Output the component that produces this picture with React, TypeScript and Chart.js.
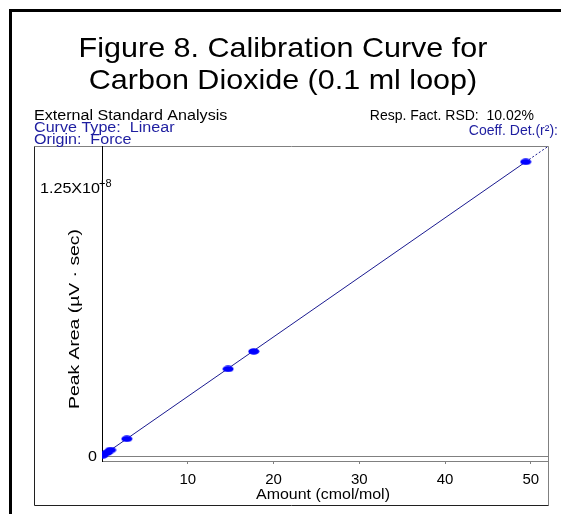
import React, { useEffect, useRef } from "react";
import { Chart, registerables } from "chart.js";

Chart.register(...registerables);

// Calibration points (amount in cmol/mol, peak area in µV·sec)
const amounts = [0.1, 0.6, 1.0, 2.9, 14.7, 17.7, 49.4];
const areas = [0.3e6, 1.6e6, 2.8e6, 8.0e6, 4.06e7, 4.88e7, 1.372e8];

// Linear fit through origin (forced): solid to last point, dotted after
const fitX = [0, 49.4, 52];
const fitY = [0, 1.372e8, 1.444e8];

const xTicks = [10, 20, 30, 40, 50];
const yTickValues = [0, 1.25e8];
const yTickLabels = ["0", "1.25X10"];
const yTickExponents = ["", "+8"];

const titleLines = ["Figure 8. Calibration Curve for", "Carbon Dioxide (0.1 ml loop)"];
const xTitle = "Amount (cmol/mol)";
const yTitle = "Peak Area (\u00B5V \u00B7 sec)";
const infoLeft = ["External Standard Analysis", "Curve Type:  Linear", "Origin:  Force"];
const infoRight = ["Resp. Fact. RSD:  10.02%", "Coeff. Det.(r\u00B2):"];

const FONT = '"Liberation Sans", Arial, sans-serif';
const BLUE_TEXT = "#1e1ea0";

function makeEllipse(): HTMLCanvasElement {
  const c = document.createElement("canvas");
  c.width = 12;
  c.height = 7;
  const g = c.getContext("2d")!;
  g.fillStyle = "#0000ff";
  g.beginPath();
  g.ellipse(6, 3.5, 5.5, 3.2, 0, 0, Math.PI * 2);
  g.fill();
  return c;
}

function txt(
  ctx: CanvasRenderingContext2D,
  s: string,
  x: number,
  y: number,
  size: number,
  color: string,
  align: CanvasTextAlign,
  sx = 1
) {
  ctx.save();
  ctx.font = `${size}px ${FONT}`;
  ctx.fillStyle = color;
  ctx.textAlign = align;
  ctx.textBaseline = "alphabetic";
  ctx.translate(x, y);
  ctx.scale(sx, 1);
  ctx.fillText(s, 0, 0);
  ctx.restore();
}

const decor = {
  id: "decor",
  beforeDraw(chart: any) {
    const ctx = chart.ctx as CanvasRenderingContext2D;
    ctx.save();
    ctx.fillStyle = "#ffffff";
    ctx.fillRect(0, 0, chart.width, chart.height);
    // outer frame
    ctx.strokeStyle = "#000000";
    ctx.lineWidth = 3;
    ctx.beginPath();
    ctx.moveTo(10.5, 600);
    ctx.lineTo(10.5, 10.5);
    ctx.lineTo(600, 10.5);
    ctx.stroke();
    // plot box
    ctx.lineWidth = 1;
    ctx.strokeStyle = "#808080";
    ctx.beginPath();
    ctx.moveTo(34.5, 146.5);
    ctx.lineTo(548.5, 146.5);
    ctx.lineTo(548.5, 505.5);
    ctx.stroke();
    ctx.strokeStyle = "#202020";
    ctx.beginPath();
    ctx.moveTo(34.5, 146.5);
    ctx.lineTo(34.5, 505.5);
    ctx.lineTo(548.5, 505.5);
    ctx.stroke();
    ctx.restore();
  },
  afterDraw(chart: any) {
    const ctx = chart.ctx as CanvasRenderingContext2D;
    const ys = chart.scales.y;
    const area = chart.chartArea;
    // title
    txt(ctx, titleLines[0], 283, 57, 28, "#000", "center", 1.09);
    txt(ctx, titleLines[1], 283, 89, 28, "#000", "center", 1.09);
    // info
    txt(ctx, infoLeft[0], 34, 119.5, 14, "#000", "left", 1.15);
    txt(ctx, infoLeft[1], 34, 131.5, 14, BLUE_TEXT, "left", 1.15);
    txt(ctx, infoLeft[2], 34, 144, 14, BLUE_TEXT, "left", 1.15);
    txt(ctx, infoRight[0], 534, 120, 14, "#000", "right");
    txt(ctx, infoRight[1], 558, 135, 14, BLUE_TEXT, "right");
    // y tick labels
    yTickValues.forEach((v, i) => {
      const py = ys.getPixelForValue(v);
      const rx = yTickExponents[i] ? area.left - 2 : area.left - 5;
      txt(ctx, yTickLabels[i], rx, py + 5, 14, "#000", "right", 1.15);
      if (yTickExponents[i]) txt(ctx, yTickExponents[i], area.left - 3, py - 1, 10, "#000", "left", 1.1);
    });
    // axis titles
    txt(ctx, xTitle, 323, 499, 14, "#000", "center", 1.14);
    ctx.save();
    ctx.translate(79, 319);
    ctx.rotate(-Math.PI / 2);
    txt(ctx, yTitle, 0, 0, 15, "#000", "center", 1.29);
    ctx.restore();
  },
};

export default function App() {
  const ref = useRef<HTMLCanvasElement | null>(null);
  useEffect(() => {
    if (!ref.current) return;
    const marker = makeEllipse();
    const chart = new Chart(ref.current, {
      type: "scatter",
      data: {
        datasets: [
          {
            label: "fit",
            data: fitX.map((x, i) => ({ x, y: fitY[i] })),
            showLine: true,
            borderColor: "#1a1a90",
            borderWidth: 1,
            pointRadius: 0,
            segment: {
              borderDash: (c: any) => (c.p0DataIndex === 1 ? [2, 2] : undefined),
            },
            order: 2,
          },
          {
            label: "standards",
            data: amounts.map((x, i) => ({ x, y: areas[i] })),
            pointStyle: marker as any,
            pointRadius: 6,
            order: 1,
          },
        ],
      },
      options: {
        responsive: false,
        animation: false,
        devicePixelRatio: 1,
        layout: { padding: { left: 42, top: 146, right: 13, bottom: 0 } },
        plugins: { legend: { display: false }, tooltip: { enabled: false }, title: { display: false } },
        scales: {
          x: {
            type: "linear",
            min: 0,
            max: 52,
            afterFit: (s: any) => {
              s.height = 53;
            },
            afterBuildTicks: (s: any) => {
              s.ticks = xTicks.map((v) => ({ value: v }));
            },
            ticks: {
              color: "#000",
              font: { family: FONT, size: 15 },
              padding: 7,
              maxRotation: 0,
              autoSkip: false,
            },
            grid: { drawOnChartArea: false, drawTicks: true, tickLength: 3, color: "#808080" },
            border: { display: true, color: "#808080" },
          },
          y: {
            type: "linear",
            min: -2.33e6,
            max: 1.446e8,
            afterFit: (s: any) => {
              s.width = 60;
            },
            afterBuildTicks: (s: any) => {
              s.ticks = yTickValues.map((v) => ({ value: v }));
            },
            ticks: { display: false },
            grid: {
              drawTicks: false,
              color: (c: any) => (c.tick && c.tick.value === 0 ? "#808080" : "rgba(0,0,0,0)"),
            },
            border: { display: true, color: "#000" },
          },
        },
      },
      plugins: [decor],
    });
    return () => chart.destroy();
  }, []);
  return (
    <div style={{ position: "absolute", left: 0, top: 0, width: 561, height: 514 }}>
      <canvas ref={ref} width={561} height={514} style={{ display: "block" }} />
    </div>
  );
}
